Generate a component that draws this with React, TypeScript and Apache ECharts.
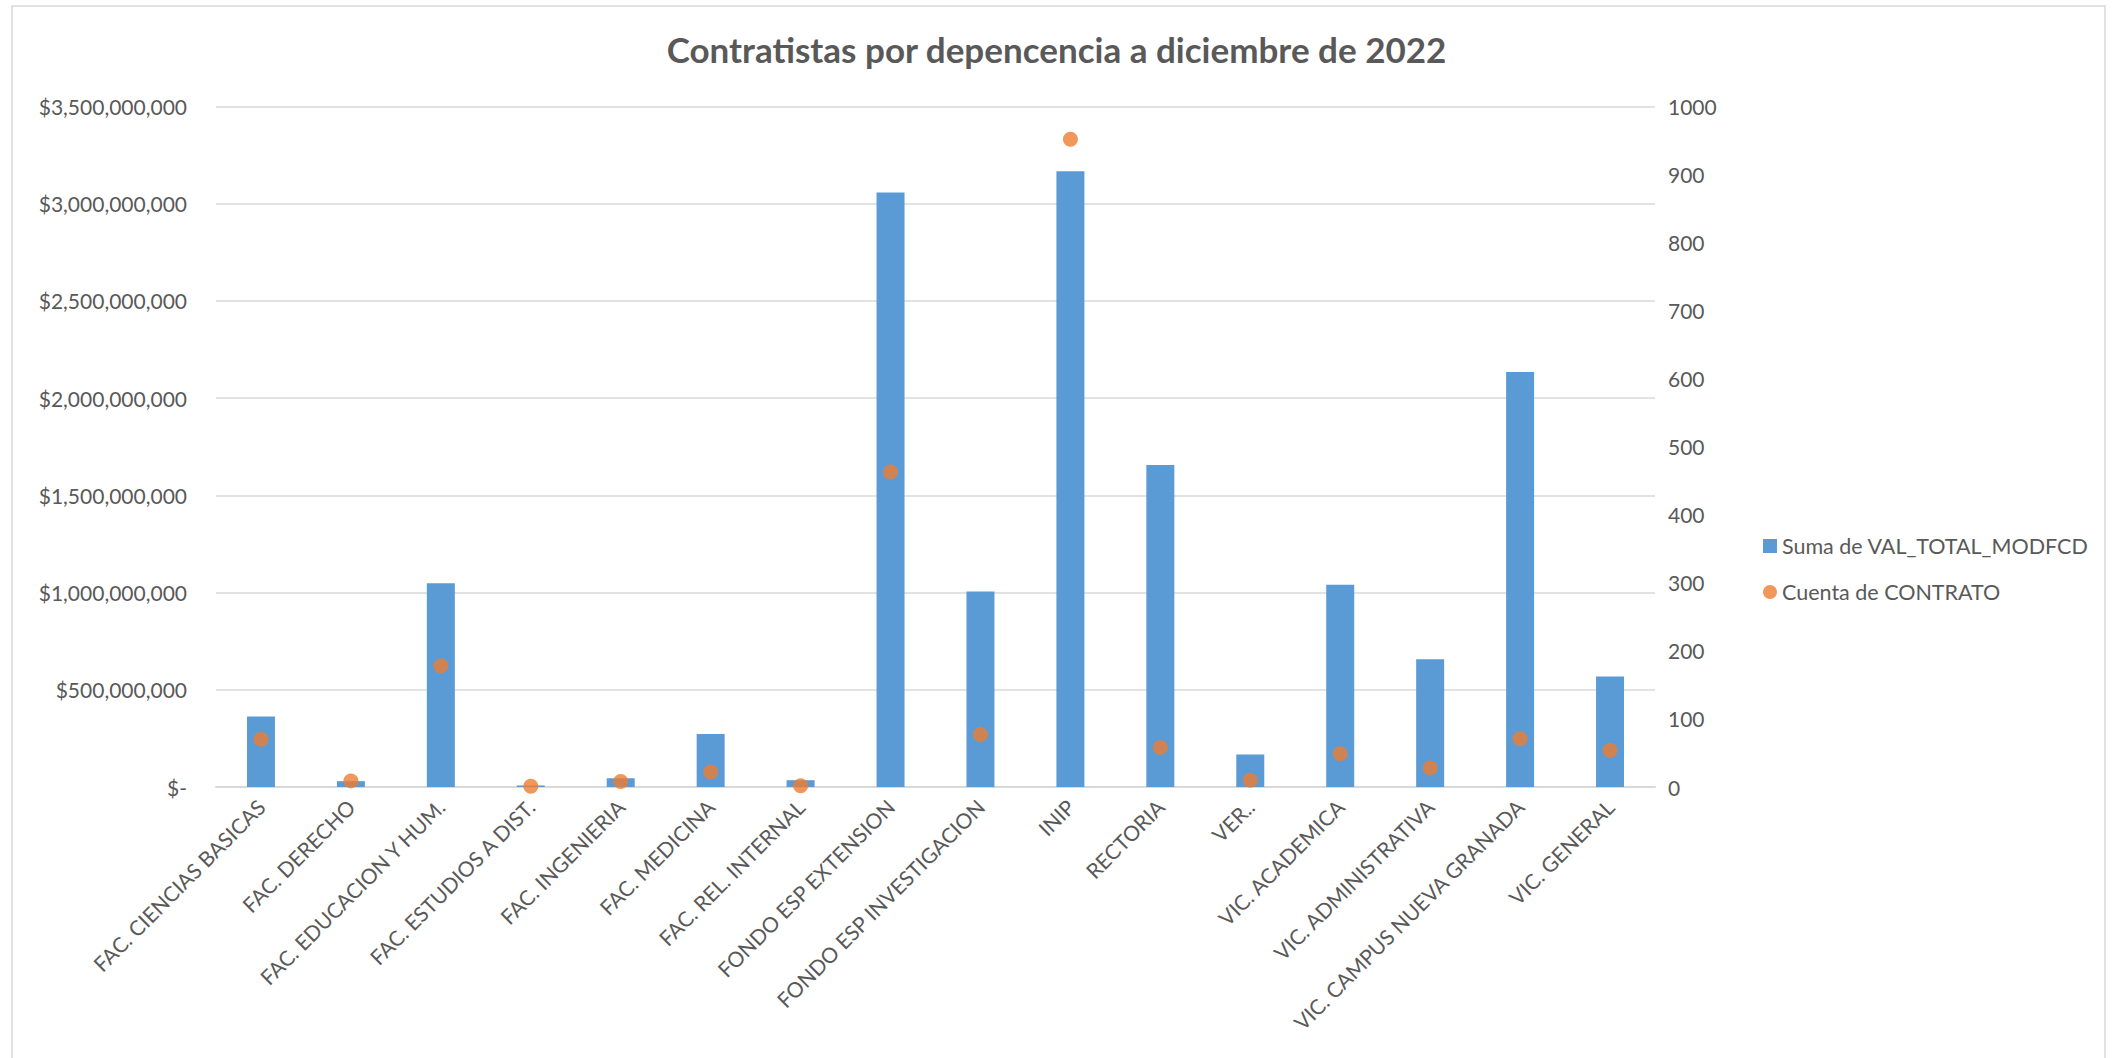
import React, { useEffect, useRef } from "react";
import * as echarts from "echarts";

const categories = [
  "FAC. CIENCIAS BASICAS",
  "FAC. DERECHO",
  "FAC. EDUCACION Y HUM.",
  "FAC. ESTUDIOS A DIST.",
  "FAC. INGENIERIA",
  "FAC. MEDICINA",
  "FAC. REL. INTERNAL",
  "FONDO ESP EXTENSION",
  "FONDO ESP INVESTIGACION",
  "INIP",
  "RECTORIA",
  "VER..",
  "VIC. ACADEMICA",
  "VIC. ADMINISTRATIVA",
  "VIC. CAMPUS NUEVA GRANADA",
  "VIC. GENERAL",
];

const valTotal = [
  362000000, 30000000, 1048000000, 8000000, 45000000, 272000000, 35000000,
  3058000000, 1005000000, 3167000000, 1656000000, 167000000, 1040000000,
  657000000, 2134000000, 568000000,
];

const cuentaContrato = [70, 9, 178, 1, 8, 22, 2, 463, 77, 952, 58, 10, 49, 28, 71, 54];

const seriesNames = ["Suma de VAL_TOTAL_MODFCD", "Cuenta de CONTRATO"];
const title = "Contratistas por depencencia a diciembre de 2022";

const FONT = "Lato, 'Open Sans', sans-serif";
const TEXT = "#595959";
const GRID = "#D9D9D9";

function formatMoney(v: number): string {
  if (v === 0) return "$-";
  return "$" + v.toLocaleString("en-US");
}

export default function App() {
  const ref = useRef<HTMLDivElement>(null);

  useEffect(() => {
    if (!ref.current) return;
    const chart = echarts.init(ref.current, null, { renderer: "svg" });
    chart.setOption({
      animation: false,
      backgroundColor: "#ffffff",
      textStyle: { fontFamily: FONT },
      title: {
        text: title,
        left: "center",
        top: 26,
        textStyle: { fontFamily: FONT, fontSize: 35, fontWeight: "bold", color: TEXT },
      },
      graphic: [
        {
          type: "rect",
          shape: { x: 12, y: 6, width: 2093, height: 1100 },
          style: { fill: "none", stroke: GRID, lineWidth: 1.5 },
          silent: true,
        },
      ],
      legend: {
        orient: "vertical",
        left: 1758,
        top: 530,
        itemWidth: 14,
        itemHeight: 14,
        itemGap: 24,
        textStyle: { fontFamily: FONT, fontSize: 21.5, color: TEXT },
        data: [
          { name: seriesNames[0], icon: "rect" },
          { name: seriesNames[1], icon: "circle" },
        ],
      },
      grid: { left: 216, right: 458, top: 106.5, bottom: 271, containLabel: false },
      xAxis: {
        type: "category",
        data: categories,
        axisLine: { show: true, lineStyle: { color: GRID, width: 2 } },
        axisTick: { show: false },
        axisLabel: {
          rotate: 45,
          interval: 0,
          margin: 16,
          fontFamily: FONT,
          fontSize: 21,
          color: TEXT,
        },
      },
      yAxis: [
        {
          type: "value",
          min: 0,
          max: 3500000000,
          interval: 500000000,
          axisLine: { show: false },
          axisTick: { show: false },
          splitLine: { show: true, lineStyle: { color: GRID, width: 1.5 } },
          axisLabel: {
            margin: 29,
            fontFamily: FONT,
            fontSize: 21,
            color: TEXT,
            formatter: (v: number) => formatMoney(v),
          },
        },
        {
          type: "value",
          min: 0,
          max: 1000,
          interval: 100,
          position: "right",
          axisLine: { show: false },
          axisTick: { show: false },
          splitLine: { show: false },
          axisLabel: {
            margin: 13,
            fontFamily: FONT,
            fontSize: 21,
            color: TEXT,
            formatter: (v: number) => String(v),
          },
        },
      ],
      series: [
        {
          name: seriesNames[0],
          type: "bar",
          yAxisIndex: 0,
          data: valTotal,
          barWidth: 28,
          itemStyle: { color: "#5B9BD5" },
        },
        {
          name: seriesNames[1],
          type: "scatter",
          yAxisIndex: 1,
          data: cuentaContrato,
          symbol: "circle",
          symbolSize: 15,
          itemStyle: { color: "#ED7D31" },
          z: 5,
        },
      ],
    });
    return () => chart.dispose();
  }, []);

  return (
    <div
      ref={ref}
      style={{ position: "fixed", left: 0, top: 0, width: 2113, height: 1058 }}
    />
  );
}
